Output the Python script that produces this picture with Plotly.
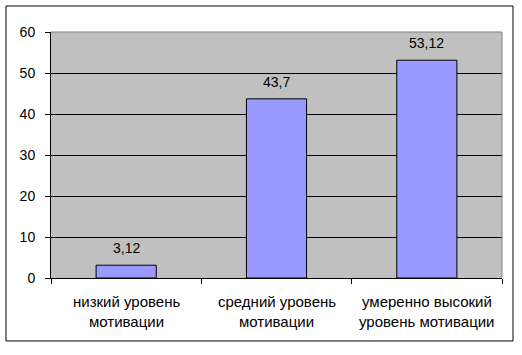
import plotly.graph_objects as go

categories = ["низкий уровень мотивации", "средний уровень мотивации", "умеренно высокий уровень мотивации"]
label_line1 = ["низкий уровень", "средний уровень", "умеренно высокий"]
label_line2 = ["мотивации", "мотивации", "уровень мотивации"]
values = [3.12, 43.7, 53.12]
value_text = ["3,12", "43,7", "53,12"]
y_ticks = [0, 10, 20, 30, 40, 50, 60]

FONT = "Liberation Sans, Arial, sans-serif"

fig = go.Figure()
fig.add_trace(go.Bar(
    x=categories, y=values,
    marker=dict(color="#9999FF", line=dict(color="black", width=1)),
    hoverinfo="skip",
))

annotations = []
for c, v, t in zip(categories, values, value_text):
    annotations.append(dict(x=c, y=v, xref="x", yref="y", text=t, showarrow=False,
                            yanchor="middle", yshift=17, font=dict(size=14, color="black", family=FONT)))
for c, l1, l2 in zip(categories, label_line1, label_line2):
    annotations.append(dict(x=c, y=0, xref="x", yref="paper", text=l1, showarrow=False,
                            yanchor="middle", yshift=-23, font=dict(size=15, color="black", family=FONT)))
    annotations.append(dict(x=c, y=0, xref="x", yref="paper", text=l2, showarrow=False,
                            yanchor="middle", yshift=-43, font=dict(size=15, color="black", family=FONT)))

fig.update_layout(
    width=522, height=355,
    margin=dict(l=51, r=20, t=32, b=77),
    paper_bgcolor="white", plot_bgcolor="#C0C0C0",
    bargap=0.6, showlegend=False,
    font=dict(family=FONT, size=13, color="black"),
    annotations=annotations,
    shapes=[
        dict(type="rect", xref="paper", yref="paper", x0=-0.0998, x1=1.0244, y0=-0.256, y1=1.1057,
             line=dict(color="black", width=1), layer="below"),
        dict(type="line", xref="paper", yref="paper", x0=0, x1=1, y0=1, y1=1,
             line=dict(color="#808080", width=1), layer="above"),
        dict(type="line", xref="paper", yref="paper", x0=1, x1=1, y0=0, y1=1,
             line=dict(color="#808080", width=1), layer="above"),
    ],
)
fig.update_xaxes(
    type="category", showticklabels=False, tickson="boundaries", ticks="outside", ticklen=5,
    tickcolor="black", showline=True, linecolor="black", linewidth=1, showgrid=False, zeroline=False,
)
fig.update_yaxes(
    range=[0, 60], tickvals=y_ticks, ticks="outside", ticklen=5, tickcolor="black",
    showline=True, linecolor="black", linewidth=1, showgrid=True, gridcolor="black", gridwidth=1,
    zeroline=False, ticklabelstandoff=7, tickfont=dict(size=14, color="black", family=FONT),
)

fig.write_html("out.html")
